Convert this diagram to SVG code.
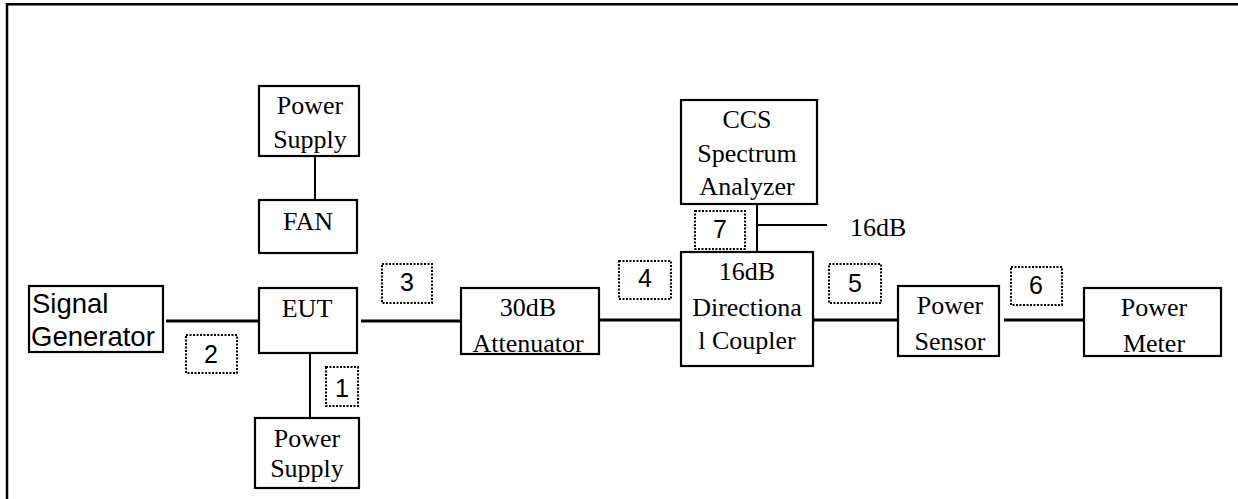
<svg xmlns="http://www.w3.org/2000/svg" width="1238" height="499" viewBox="0 0 1238 499">
<style>
.box{fill:#fff;stroke:#000;stroke-width:2.2}
.lbl{fill:none;stroke:#000;stroke-width:2;stroke-dasharray:2 1.5}
.t{font-family:"Liberation Serif","Times New Roman",serif;font-size:26px;fill:#000;text-anchor:middle}
.a{font-family:"Liberation Sans",Arial,sans-serif;font-size:27.5px;fill:#000}
.n{font-family:"Liberation Sans",Arial,sans-serif;font-size:25px;fill:#000;text-anchor:middle}
.w{stroke:#000;stroke-width:3;fill:none}
.v{stroke:#000;stroke-width:2;fill:none}
</style>
<rect width="1238" height="499" fill="#fff"/>
<path d="M7,499 V4.3 H1238" fill="none" stroke="#000" stroke-width="2.5"/>
<g id="connectors">
<line class="v" x1="315" y1="156" x2="315" y2="200"/>
<line class="w" x1="166" y1="321" x2="259" y2="321"/>
<line class="v" x1="310" y1="353" x2="310" y2="420"/>
<line class="w" x1="361" y1="321" x2="461" y2="321"/>
<line class="w" x1="599" y1="320" x2="681" y2="320"/>
<line class="v" x1="757" y1="204" x2="757" y2="252"/>
<line class="v" x1="757" y1="225" x2="827" y2="225"/>
<line class="w" x1="813" y1="320" x2="898" y2="320"/>
<line class="w" x1="1004" y1="320" x2="1084" y2="320"/>
</g>
<g id="ps_top"><rect class="box" x="259" y="86" width="100" height="70"/><text class="t" x="310" y="114">Power</text><text class="t" x="310" y="148">Supply</text></g>
<g id="fan"><rect class="box" x="259" y="200" width="98" height="53"/><text class="t" x="308" y="230">FAN</text></g>
<g id="siggen"><rect class="box" x="29" y="286" width="134" height="66"/><text class="a" x="32" y="313">Signal</text><text class="a" x="31" y="346">Generator</text></g>
<g id="eut"><rect class="box" x="259" y="288" width="98" height="65"/><text class="t" x="307" y="317">EUT</text></g>
<g id="ps_bot"><rect class="box" x="255" y="418" width="104" height="70"/><text class="t" x="307" y="447">Power</text><text class="t" x="307" y="477">Supply</text></g>
<g id="atten"><rect class="box" x="461" y="288" width="138" height="66"/><text class="t" x="528" y="316">30dB</text><text class="t" x="528" y="352">Attenuator</text></g>
<g id="coupler"><rect class="box" x="681" y="252" width="132" height="114"/><text class="t" x="747" y="280">16dB</text><text class="t" x="747" y="316">Directiona</text><text class="t" x="747" y="349">l Coupler</text></g>
<g id="ccs"><rect class="box" x="681" y="100" width="136" height="104"/><text class="t" x="747" y="128">CCS</text><text class="t" x="747" y="162">Spectrum</text><text class="t" x="747" y="195">Analyzer</text></g>
<g id="cpl_label"><text class="t" x="850" y="236" style="text-anchor:start">16dB</text></g>
<g id="sensor"><rect class="box" x="898" y="286" width="101" height="70"/><text class="t" x="950" y="314">Power</text><text class="t" x="950" y="350">Sensor</text></g>
<g id="meter"><rect class="box" x="1084" y="288" width="137" height="68"/><text class="t" x="1154" y="316">Power</text><text class="t" x="1154" y="352">Meter</text></g>
<g id="lbl1"><rect class="lbl" x="326" y="367" width="32" height="39"/><text class="n" x="342" y="397">1</text></g>
<g id="lbl2"><rect class="lbl" x="186" y="335" width="51" height="38"/><text class="n" x="211" y="363">2</text></g>
<g id="lbl3"><rect class="lbl" x="382" y="264" width="50" height="39"/><text class="n" x="407" y="291">3</text></g>
<g id="lbl4"><rect class="lbl" x="619" y="261" width="52" height="38"/><text class="n" x="645" y="287">4</text></g>
<g id="lbl5"><rect class="lbl" x="829" y="264" width="52" height="39"/><text class="n" x="855" y="292">5</text></g>
<g id="lbl6"><rect class="lbl" x="1011" y="267" width="51" height="38"/><text class="n" x="1036" y="294">6</text></g>
<g id="lbl7"><rect class="lbl" x="695" y="211" width="50" height="38"/><text class="n" x="720" y="238">7</text></g>
</svg>
